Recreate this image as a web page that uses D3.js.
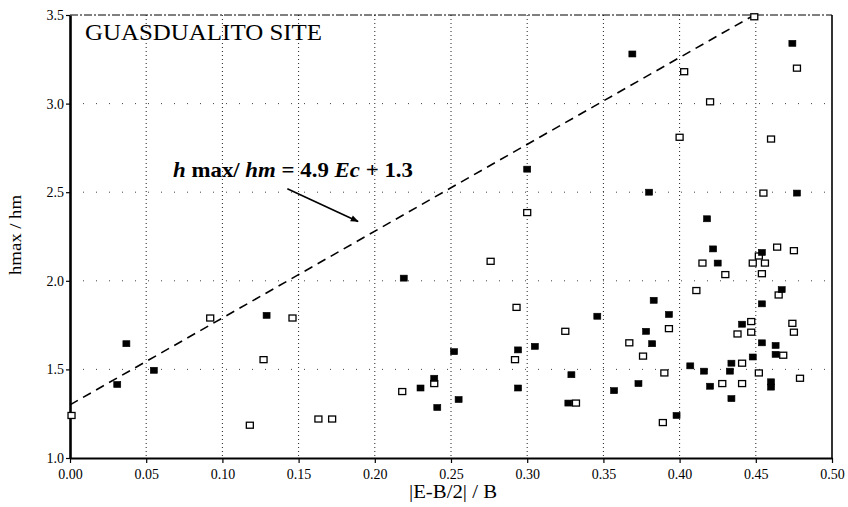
<!DOCTYPE html>
<html>
<head>
<meta charset="utf-8">
<script src="https://cdn.jsdelivr.net/npm/d3@7"></script>
<style>
  body { margin: 0; background: #fff; }
  text { font-family: "Liberation Serif", "Times New Roman", serif; fill: #000; }
</style>
</head>
<body>
<svg id="chart" width="848" height="507"></svg>
<script>
// Axis ticks
const xTicks = [0, 0.05, 0.10, 0.15, 0.20, 0.25, 0.30, 0.35, 0.40, 0.45, 0.50];
const yTicks = [1.0, 1.5, 2.0, 2.5, 3.0, 3.5];

// Open-square series: eccentricity vs. hmax/hm
const openX = [0.001, 0.092, 0.118, 0.127, 0.146, 0.163, 0.172, 0.218, 0.239, 0.276,
  0.300, 0.293, 0.292, 0.325, 0.332, 0.367, 0.376, 0.390, 0.393, 0.389,
  0.411, 0.415, 0.430, 0.448, 0.456, 0.454, 0.452, 0.464, 0.475, 0.465,
  0.447, 0.474, 0.475, 0.447, 0.438, 0.441, 0.452, 0.441, 0.428, 0.468,
  0.479, 0.449, 0.477, 0.420, 0.400, 0.460, 0.455, 0.403];
const openY = [1.24, 1.79, 1.185, 1.555, 1.79, 1.22, 1.22, 1.375, 1.42, 2.11,
  2.385, 1.85, 1.555, 1.715, 1.31, 1.65, 1.575, 1.48, 1.73, 1.20,
  1.945, 2.10, 2.035, 2.10, 2.10, 2.04, 2.14, 2.19, 2.17, 1.92,
  1.77, 1.76, 1.71, 1.71, 1.70, 1.535, 1.48, 1.42, 1.42, 1.58,
  1.45, 3.49, 3.20, 3.01, 2.81, 2.80, 2.495, 3.18];

// Filled-square series
const filledX = [0.031, 0.037, 0.055, 0.129, 0.219, 0.230, 0.239, 0.241, 0.252, 0.255,
  0.294, 0.305, 0.294, 0.329, 0.327, 0.346, 0.300, 0.357, 0.378, 0.382,
  0.373, 0.383, 0.393, 0.418, 0.422, 0.425, 0.454, 0.467, 0.454, 0.441,
  0.454, 0.463, 0.463, 0.448, 0.434, 0.433, 0.407, 0.416, 0.420, 0.460,
  0.460, 0.434, 0.398, 0.369, 0.474, 0.380, 0.477];
const filledY = [1.415, 1.645, 1.495, 1.805, 2.015, 1.395, 1.45, 1.285, 1.60, 1.33,
  1.61, 1.63, 1.395, 1.47, 1.31, 1.80, 2.63, 1.38, 1.715, 1.645,
  1.42, 1.89, 1.81, 2.35, 2.18, 2.10, 2.16, 1.95, 1.87, 1.755,
  1.65, 1.635, 1.585, 1.57, 1.535, 1.49, 1.52, 1.49, 1.405, 1.43,
  1.40, 1.335, 1.24, 3.28, 3.34, 2.50, 2.495];

// Envelope line hmax/hm = 4.9 Ec + 1.3
const fitSlope = 4.9;
const fitIntercept = 1.3;

// Arrow from the equation label to the envelope line (data units)
const arrowFrom = [0.1426, 2.52];
const arrowTo = [0.189, 2.335];

const svg = d3.select("#chart");
const W = 848, H = 507;
const margin = { left: 70, right: 16, top: 15, bottom: 49 };

const x = d3.scaleLinear().domain([0, 0.5]).range([margin.left, W - margin.right]);
const y = d3.scaleLinear().domain([1, 3.5]).range([H - margin.bottom, margin.top]);

svg.append("rect").attr("width", W).attr("height", H).attr("fill", "#fff");

// Dotted grid
svg.append("g").selectAll("line").data(xTicks.slice(1, -1)).join("line")
  .attr("x1", d => x(d)).attr("x2", d => x(d))
  .attr("y1", y(3.5)).attr("y2", y(1))
  .attr("stroke", "#222").attr("stroke-width", 1)
  .attr("stroke-dasharray", "1,3");
svg.append("g").selectAll("line").data(yTicks.slice(1, -1)).join("line")
  .attr("x1", x(0)).attr("x2", x(0.5))
  .attr("y1", d => y(d)).attr("y2", d => y(d))
  .attr("stroke", "#444").attr("stroke-width", 1)
  .attr("stroke-dasharray", "1,12");

// Frame: dashed top, solid right
svg.append("line").attr("x1", x(0)).attr("x2", x(0.5)).attr("y1", y(3.5)).attr("y2", y(3.5))
  .attr("stroke", "#000").attr("stroke-width", 1).attr("stroke-dasharray", "8,2,2,2");
svg.append("line").attr("x1", x(0.5)).attr("x2", x(0.5)).attr("y1", y(3.5)).attr("y2", y(1))
  .attr("stroke", "#000").attr("stroke-width", 1.6);

// Axes
const xAxis = d3.axisBottom(x).tickValues(xTicks).tickFormat(d3.format(".2f")).tickSize(5).tickSizeOuter(0);
const yAxis = d3.axisLeft(y).tickValues(yTicks).tickFormat(d3.format(".1f")).tickSize(4).tickSizeOuter(0);

const gx = svg.append("g").attr("transform", `translate(0,${y(1)})`).call(xAxis);
const gy = svg.append("g").attr("transform", `translate(${x(0)},0)`).call(yAxis);
gx.select(".domain").attr("stroke", "#000").attr("stroke-width", 2);
gy.select(".domain").attr("stroke", "#000").attr("stroke-width", 2.6);
[gx, gy].forEach(g => {
  g.selectAll(".tick line").attr("stroke", "#000").attr("stroke-width", 1.2);
  g.selectAll(".tick text")
    .style("font-family", "'Liberation Serif', serif")
    .style("font-size", "14px").attr("fill", "#000");
});
gx.selectAll(".tick text").attr("dy", "0.95em");
gy.selectAll(".tick text").attr("x", -6);

// Axis titles
svg.append("text")
  .attr("x", x(0.25) + 2).attr("y", 498)
  .attr("text-anchor", "middle")
  .attr("textLength", 88).attr("lengthAdjust", "spacingAndGlyphs")
  .style("font-size", "18px")
  .text("|E-B/2| / B");
svg.append("text")
  .attr("transform", "translate(21,235) rotate(-90)")
  .attr("text-anchor", "middle")
  .attr("textLength", 80).attr("lengthAdjust", "spacingAndGlyphs")
  .style("font-size", "16px")
  .text("hmax / hm");

// Site title
svg.append("text")
  .attr("x", 85).attr("y", 40)
  .attr("textLength", 237).attr("lengthAdjust", "spacingAndGlyphs")
  .style("font-size", "23px")
  .text("GUASDUALITO SITE");

// Envelope line
const xEnd = (3.5 - fitIntercept) / fitSlope;
const fitLine = d3.line().x(d => x(d)).y(d => y(fitSlope * d + fitIntercept));
svg.append("path")
  .datum([0, Math.min(xEnd, 0.5)])
  .attr("d", fitLine)
  .attr("fill", "none").attr("stroke", "#000").attr("stroke-width", 1.6)
  .attr("stroke-dasharray", "9,6");

// Equation label
const eq = svg.append("text")
  .attr("x", 173).attr("y", 177)
  .attr("textLength", 240).attr("lengthAdjust", "spacingAndGlyphs")
  .style("font-size", "22px").style("font-weight", "bold");
eq.append("tspan").style("font-style", "italic").text("h");
eq.append("tspan").text(" max/ ");
eq.append("tspan").style("font-style", "italic").text("hm");
eq.append("tspan").text(" = 4.9 ");
eq.append("tspan").style("font-style", "italic").text("Ec");
eq.append("tspan").text(" + 1.3");

// Arrow
svg.append("defs").append("marker")
  .attr("id", "arrowhead").attr("viewBox", "0 0 10 10")
  .attr("refX", 9).attr("refY", 5)
  .attr("markerWidth", 7).attr("markerHeight", 5)
  .attr("orient", "auto")
  .append("path").attr("d", "M0,1 L10,5 L0,9 Z").attr("fill", "#000");
svg.append("line")
  .attr("x1", x(arrowFrom[0])).attr("y1", y(arrowFrom[1]))
  .attr("x2", x(arrowTo[0])).attr("y2", y(arrowTo[1]))
  .attr("stroke", "#000").attr("stroke-width", 1.6)
  .attr("marker-end", "url(#arrowhead)");

// Markers
const mw = 7, mh = 6;
svg.append("g").selectAll("rect").data(d3.range(openX.length)).join("rect")
  .attr("x", i => x(openX[i]) - mw / 2).attr("y", i => y(openY[i]) - mh / 2)
  .attr("width", mw).attr("height", mh)
  .attr("fill", "#fff").attr("stroke", "#000").attr("stroke-width", 1.3);
svg.append("g").selectAll("rect").data(d3.range(filledX.length)).join("rect")
  .attr("x", i => x(filledX[i]) - mw / 2).attr("y", i => y(filledY[i]) - mh / 2)
  .attr("width", mw).attr("height", mh)
  .attr("fill", "#000").attr("stroke", "#000").attr("stroke-width", 0.6);
</script>
</body>
</html>
